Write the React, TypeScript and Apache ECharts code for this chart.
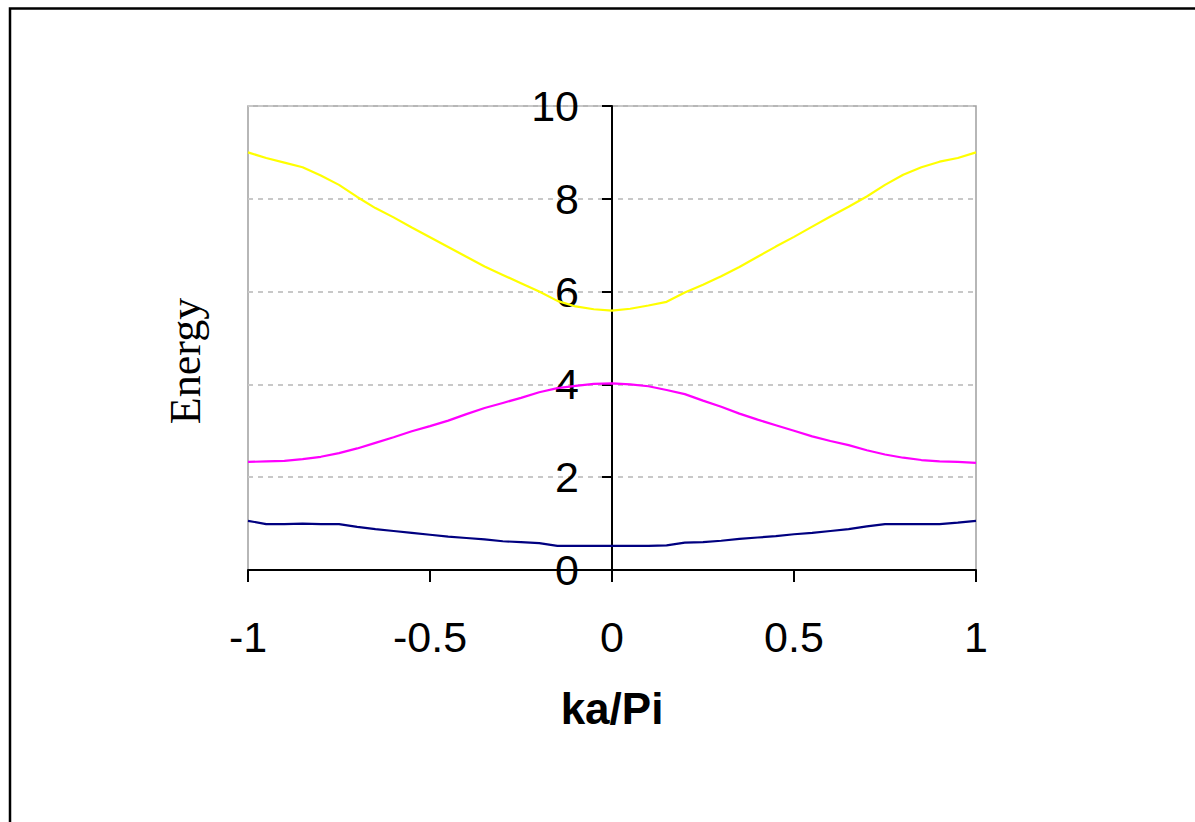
import React, { useEffect, useRef } from "react";
import * as echarts from "echarts";

const kValues = [
  -1.0, -0.95, -0.9, -0.85, -0.8, -0.75, -0.7, -0.65, -0.6, -0.55, -0.5,
  -0.45, -0.4, -0.35, -0.3, -0.25, -0.2, -0.15, -0.1, -0.05, 0.0,
  0.05, 0.1, 0.15, 0.2, 0.25, 0.3, 0.35, 0.4, 0.45, 0.5,
  0.55, 0.6, 0.65, 0.7, 0.75, 0.8, 0.85, 0.9, 0.95, 1.0,
];

const band1 = [
  1.06, 0.99, 0.99, 1.0, 0.99, 0.99, 0.93, 0.88, 0.84, 0.8, 0.76,
  0.72, 0.69, 0.66, 0.62, 0.6, 0.58, 0.52, 0.52, 0.52, 0.52,
  0.52, 0.52, 0.53, 0.59, 0.6, 0.63, 0.67, 0.7, 0.73, 0.77,
  0.8, 0.84, 0.88, 0.94, 0.99, 0.99, 0.99, 0.99, 1.02, 1.06,
];

const band2 = [
  2.33, 2.34, 2.35, 2.39, 2.44, 2.52, 2.62, 2.74, 2.86, 2.99, 3.1,
  3.22, 3.36, 3.49, 3.6, 3.71, 3.83, 3.92, 3.97, 4.01, 4.02,
  4.0, 3.96, 3.88, 3.79, 3.65, 3.52, 3.37, 3.24, 3.12, 3.0,
  2.88, 2.78, 2.69, 2.58, 2.49, 2.42, 2.37, 2.34, 2.33, 2.31,
];

const band3 = [
  9.0, 8.88, 8.78, 8.68, 8.5, 8.3, 8.04, 7.8, 7.6, 7.38, 7.17,
  6.96, 6.75, 6.54, 6.36, 6.18, 6.0, 5.8, 5.68, 5.62, 5.59,
  5.63, 5.7, 5.78, 5.98, 6.15, 6.33, 6.53, 6.75, 6.97, 7.18,
  7.4, 7.62, 7.83, 8.05, 8.3, 8.52, 8.68, 8.8, 8.88, 9.0,
];

const xTicks = { min: -1, max: 1, interval: 0.5 };
const yTicks = { min: 0, max: 10, interval: 2 };

const sans = '"Liberation Sans", Arial, sans-serif';
const serif = '"Liberation Serif", "Times New Roman", serif';

const GRID_LEFT = 248;
const GRID_WIDTH = 728;

function pairs(ys: number[]) {
  return kValues.map((k, i) => [k, ys[i]]);
}

export default function App() {
  const ref = useRef<HTMLDivElement>(null);
  useEffect(() => {
    if (!ref.current) return;
    const chart = echarts.init(ref.current, undefined, { renderer: "svg" });
    // y axis crosses at x = 0: offset it inward from the grid's left edge
    const zeroOffset = -GRID_WIDTH * ((0 - xTicks.min) / (xTicks.max - xTicks.min));
    chart.setOption({
      animation: false,
      backgroundColor: "#ffffff",
      grid: {
        left: GRID_LEFT,
        right: 1195 - GRID_LEFT - GRID_WIDTH,
        top: 106,
        bottom: 252,
        show: true,
        borderColor: "#a0a0a0",
        borderWidth: 1.5,
        backgroundColor: "transparent",
      },
      graphic: [
        {
          type: "rect",
          shape: { x: 10, y: 8.5, width: 1200, height: 830 },
          style: { fill: "none", stroke: "#000000", lineWidth: 2.5 },
          silent: true,
        },
        {
          type: "text",
          x: 185,
          y: 361,
          rotation: Math.PI / 2,
          style: {
            text: "Energy",
            font: `44px ${serif}`,
            fill: "#000000",
            textAlign: "center",
            textVerticalAlign: "middle",
          },
        },
      ],
      xAxis: {
        type: "value",
        min: xTicks.min,
        max: xTicks.max,
        interval: xTicks.interval,
        name: "ka/Pi",
        nameLocation: "middle",
        nameGap: 116,
        nameTextStyle: {
          fontFamily: sans,
          fontSize: 44,
          fontWeight: "bold",
          color: "#000000",
        },
        axisLine: { show: true, onZero: false, lineStyle: { color: "#000000", width: 2 } },
        axisTick: { show: true, inside: false, length: 12, lineStyle: { color: "#000000", width: 2 } },
        axisLabel: { fontFamily: sans, fontSize: 43, color: "#000000", margin: 45 },
        splitLine: { show: false },
      },
      yAxis: {
        type: "value",
        min: yTicks.min,
        max: yTicks.max,
        interval: yTicks.interval,
        offset: zeroOffset,
        axisLine: { show: true, onZero: false, lineStyle: { color: "#000000", width: 2 } },
        axisTick: { show: true, inside: false, length: 10, lineStyle: { color: "#000000", width: 2 } },
        axisLabel: { fontFamily: sans, fontSize: 43, color: "#000000", margin: 33 },
        splitLine: {
          show: true,
          lineStyle: { color: "#c8c8c8", width: 2, type: [5, 5] },
        },
      },
      series: [
        {
          name: "band1",
          type: "line",
          data: pairs(band1),
          showSymbol: false,
          lineStyle: { color: "#000080", width: 2.2 },
          itemStyle: { color: "#000080" },
        },
        {
          name: "band2",
          type: "line",
          data: pairs(band2),
          showSymbol: false,
          lineStyle: { color: "#ff00ff", width: 2.2 },
          itemStyle: { color: "#ff00ff" },
        },
        {
          name: "band3",
          type: "line",
          data: pairs(band3),
          showSymbol: false,
          lineStyle: { color: "#ffff00", width: 2.2 },
          itemStyle: { color: "#ffff00" },
        },
      ],
    });
    return () => chart.dispose();
  }, []);
  return (
    <div
      ref={ref}
      style={{ position: "fixed", left: 0, top: 0, width: 1195, height: 822, background: "#fff" }}
    />
  );
}
